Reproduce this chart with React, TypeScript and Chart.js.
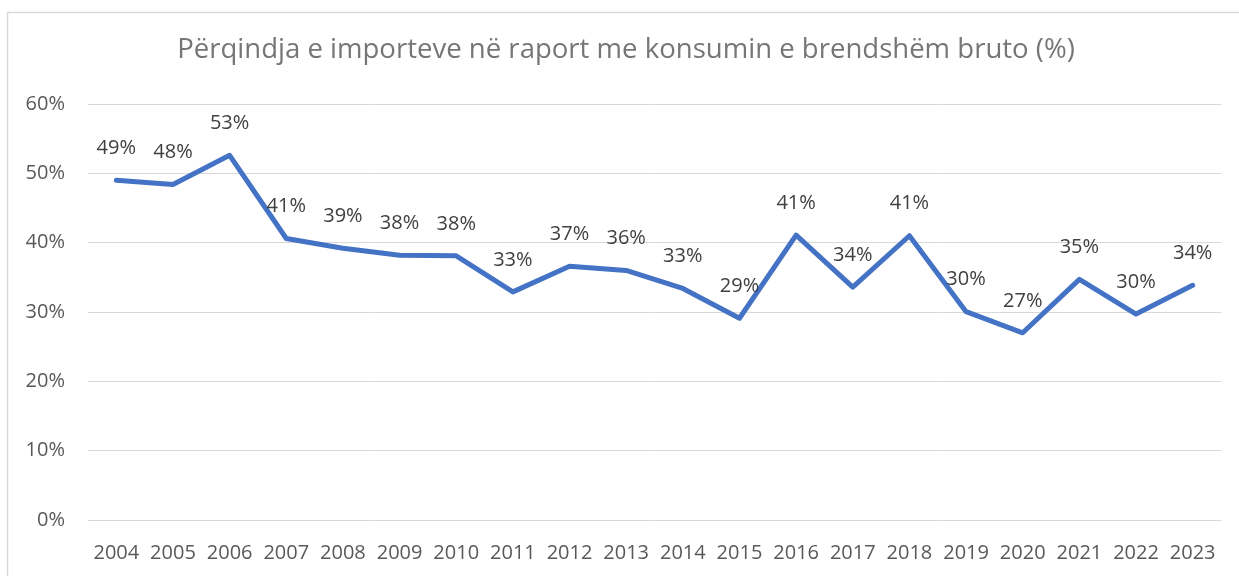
import React, { useEffect, useRef } from "react";
import { Chart, registerables } from "chart.js";

Chart.register(...registerables);

const TITLE = "Përqindja e importeve në raport me konsumin e brendshëm bruto (%)";
const YEARS = [
  "2004", "2005", "2006", "2007", "2008", "2009", "2010", "2011", "2012", "2013",
  "2014", "2015", "2016", "2017", "2018", "2019", "2020", "2021", "2022", "2023",
];
const IMPORT_SHARE = [
  49.0, 48.4, 52.6, 40.6, 39.2, 38.2, 38.1, 32.9, 36.6, 36.0,
  33.4, 29.1, 41.1, 33.6, 41.0, 30.05, 27.0, 34.7, 29.7, 33.85,
];
const Y_TICKS = [0, 10, 20, 30, 40, 50, 60];

const FONT = "'Open Sans', 'Noto Sans', sans-serif";

const framePlugin = {
  id: "frame",
  beforeDraw(chart: any) {
    const ctx = chart.ctx;
    ctx.save();
    ctx.fillStyle = "#ffffff";
    ctx.fillRect(0, 0, chart.width, chart.height);
    ctx.strokeStyle = "#d9d9d9";
    ctx.lineWidth = 1.5;
    ctx.beginPath();
    ctx.moveTo(7.5, chart.height + 2);
    ctx.lineTo(7.5, 12.5);
    ctx.lineTo(chart.width + 2, 12.5);
    ctx.stroke();
    ctx.restore();
  },
};

const titlePlugin = {
  id: "customTitle",
  afterDraw(chart: any) {
    const ctx = chart.ctx;
    ctx.save();
    ctx.font = `26px ${FONT}`;
    const w = ctx.measureText(TITLE).width;
    const size = 26 * (898 / w);
    ctx.font = `${size}px ${FONT}`;
    ctx.fillStyle = "#767676";
    ctx.textAlign = "center";
    ctx.textBaseline = "alphabetic";
    ctx.fillText(TITLE, 626, 58);
    ctx.restore();
  },
};

const dataLabelPlugin = {
  id: "dataLabels",
  afterDatasetsDraw(chart: any) {
    const ctx = chart.ctx;
    const meta = chart.getDatasetMeta(0);
    const data = chart.data.datasets[0].data as number[];
    ctx.save();
    ctx.font = `20px ${FONT}`;
    ctx.fillStyle = "#404040";
    ctx.textAlign = "center";
    ctx.textBaseline = "middle";
    meta.data.forEach((pt: any, i: number) => {
      ctx.fillText(`${Math.round(data[i])}%`, pt.x, pt.y - 32);
    });
    ctx.restore();
  },
};

export default function App() {
  const ref = useRef<HTMLCanvasElement | null>(null);

  useEffect(() => {
    if (!ref.current) return;
    const chart = new Chart(ref.current, {
      type: "line",
      data: {
        labels: YEARS,
        datasets: [
          {
            data: IMPORT_SHARE,
            borderColor: "#4472C4",
            backgroundColor: "#4472C4",
            borderWidth: 5,
            pointRadius: 0,
            pointHoverRadius: 0,
            tension: 0,
            borderCapStyle: "round",
            borderJoinStyle: "round",
            fill: false,
          },
        ],
      },
      options: {
        animation: false,
        responsive: false,
        maintainAspectRatio: false,
        layout: { padding: { left: 0, right: 18, top: 104, bottom: 0 } },
        plugins: {
          legend: { display: false },
          title: { display: false },
          tooltip: { enabled: false },
        },
        scales: {
          x: {
            offset: true,
            grid: { display: false },
            border: { display: false },
            ticks: {
              color: "#595959",
              font: { family: FONT, size: 20 },
              padding: 13,
              maxRotation: 0,
              autoSkip: false,
            },
            afterFit: (s: any) => {
              s.height = 56;
            },
          },
          y: {
            min: 0,
            max: 60,
            afterBuildTicks: (s: any) => {
              s.ticks = Y_TICKS.map((v) => ({ value: v }));
            },
            grid: { color: "#d9d9d9", lineWidth: 1, drawTicks: false },
            border: { display: false },
            ticks: {
              color: "#595959",
              font: { family: FONT, size: 20 },
              padding: 23,
              callback: (v: any) => `${v}%`,
            },
            afterFit: (s: any) => {
              s.width = 88;
            },
          },
        },
      },
      plugins: [framePlugin, titlePlugin, dataLabelPlugin],
    });
    return () => chart.destroy();
  }, []);

  return (
    <div style={{ position: "fixed", left: 0, top: 0, width: 1239, height: 576, overflow: "hidden", background: "#fff" }}>
      <canvas ref={ref} width={1239} height={576} style={{ width: 1239, height: 576, display: "block" }} />
    </div>
  );
}
